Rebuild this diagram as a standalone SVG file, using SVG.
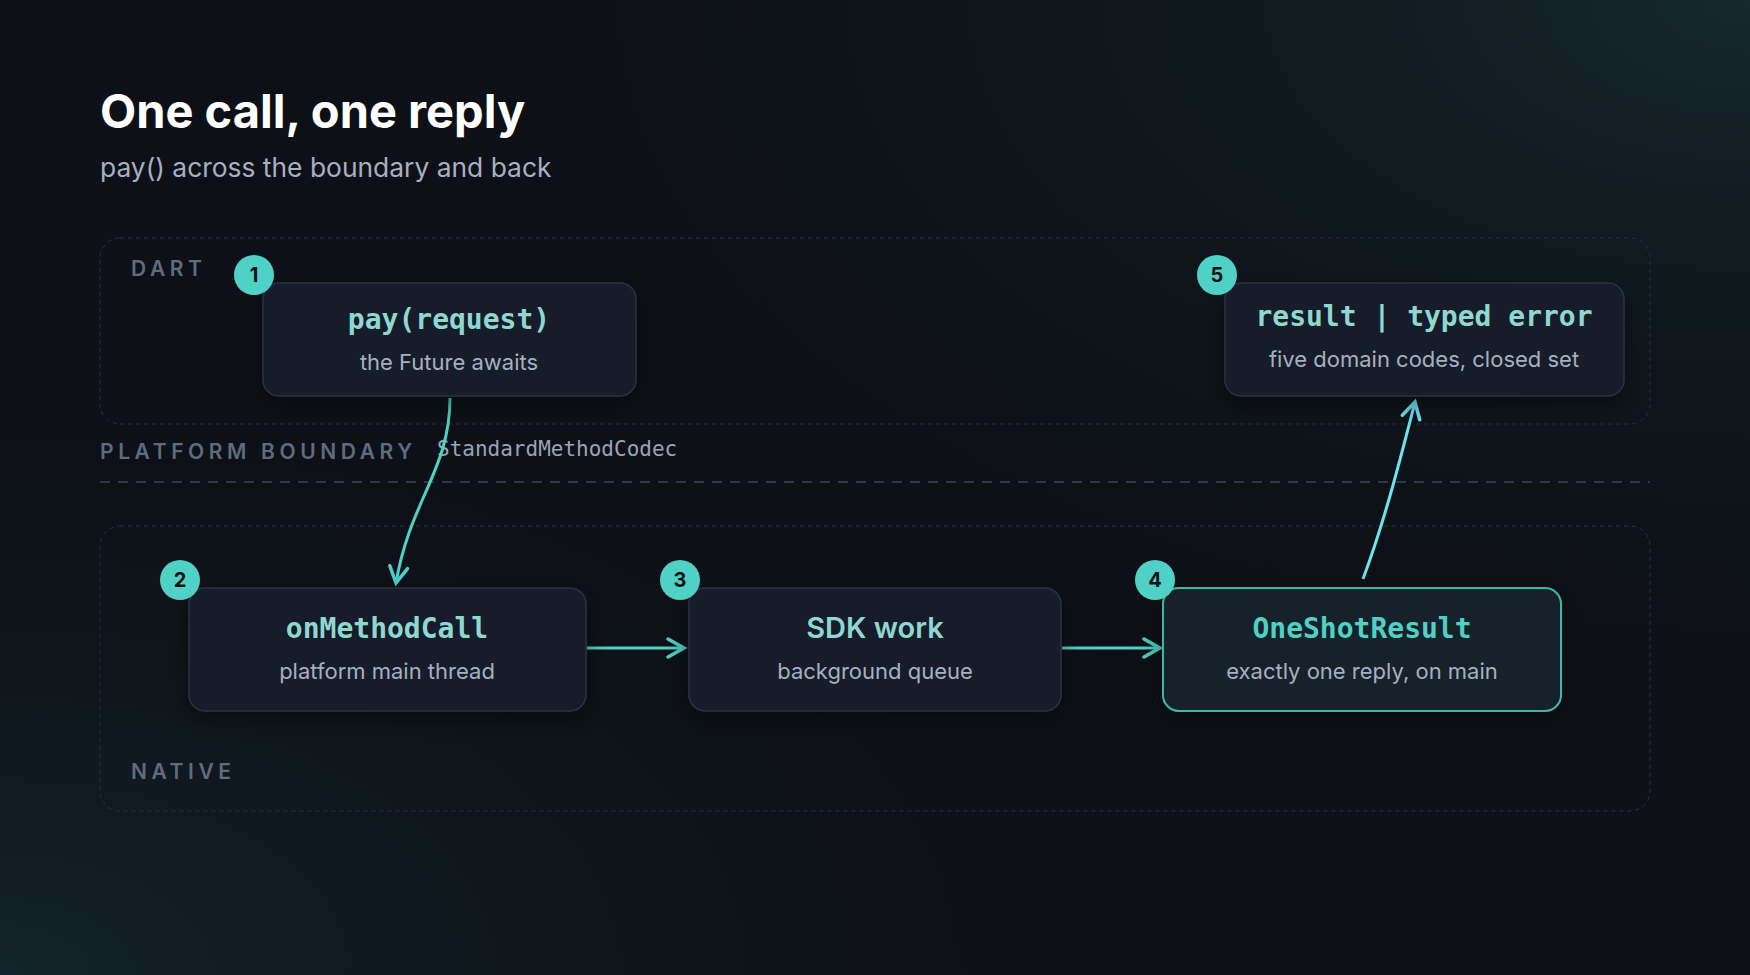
<svg xmlns="http://www.w3.org/2000/svg" width="1750" height="975" viewBox="0 0 1750 975">
<defs>
<radialGradient id="g1" cx="1" cy="0" r="0.7"><stop offset="0" stop-color="#16292c"/><stop offset="1" stop-color="#0d1117" stop-opacity="0"/></radialGradient>
<radialGradient id="g2" cx="0" cy="1" r="0.6"><stop offset="0" stop-color="#13252a"/><stop offset="1" stop-color="#0d1117" stop-opacity="0"/></radialGradient>
<marker id="ah" viewBox="0 0 24 24" refX="20" refY="12" markerWidth="24" markerHeight="24" markerUnits="userSpaceOnUse" orient="auto"><path d="M4 3 L20 12 L4 21" fill="none" stroke="#4fd1c5" stroke-width="3.5" stroke-linecap="round"/></marker>
<marker id="ah2" viewBox="0 0 24 24" refX="20" refY="12" markerWidth="24" markerHeight="24" markerUnits="userSpaceOnUse" orient="auto"><path d="M4 3 L20 12 L4 21" fill="none" stroke="#6ee3f0" stroke-width="3.5" stroke-linecap="round"/></marker>
<filter id="sh" x="-20%" y="-30%" width="140%" height="160%"><feDropShadow dx="0" dy="8" stdDeviation="12" flood-color="#000" flood-opacity="0.45"/></filter>
</defs>
<style>
.region{fill:none;stroke:#2a3140;stroke-width:1;stroke-dasharray:4 4}
.lane{font-family:Inter,"Liberation Sans",sans-serif;font-weight:600;font-size:21px;letter-spacing:4.6px;fill:#5f6b7e}
.node{fill:#181d29;stroke:#2b3242;stroke-width:1.5}
.t{font-family:"DejaVu Sans Mono","Liberation Mono",monospace;font-weight:bold;font-size:28px;fill:#8fd8cf;text-anchor:middle}
.s{font-family:Inter,"Liberation Sans",sans-serif;font-size:22px;fill:#a6b0c0;text-anchor:middle}
.badge{fill:#4fd1c5}
.bt{font-family:Inter,"Liberation Sans",sans-serif;font-weight:bold;font-size:20px;fill:#0d1117;text-anchor:middle}
.c{fill:none;stroke:#4fd1c5;stroke-width:3}
</style>
<rect width="1750" height="975" fill="#0d1117"/>
<rect width="1750" height="975" fill="url(#g1)"/>
<rect width="1750" height="975" fill="url(#g2)"/>
<text x="100" y="128" font-family="Inter,'Liberation Sans',sans-serif" font-weight="bold" font-size="47" fill="#ffffff">One call, one reply</text>
<text x="100" y="177" font-family="Inter,'Liberation Sans',sans-serif" font-size="26.4" fill="#a6b0c0">pay() across the boundary and back</text>
<rect class="region" x="100" y="238" width="1550" height="186" rx="20"/>
<text class="lane" x="131" y="276">DART</text>
<rect class="region" x="100" y="526" width="1550" height="285" rx="20"/>
<text class="lane" x="131" y="779">NATIVE</text>
<text class="lane" x="100" y="459">PLATFORM BOUNDARY</text>
<text x="437" y="456" font-family="'DejaVu Sans Mono','Liberation Mono',monospace" font-size="21" fill="#9aa4b4">StandardMethodCodec</text>
<line x1="100" y1="482" x2="1650" y2="482" stroke="#2f3848" stroke-width="2" stroke-dasharray="10 8"/>
<g id="connectors">
<path class="c" d="M450 398 C450 470 410 500 396 583" marker-end="url(#ah)"/>
<path class="c" d="M587 648 L684 648" marker-end="url(#ah)"/>
<path class="c" d="M1062 648 L1160 648" marker-end="url(#ah)"/>
<path fill="none" stroke="#6ee3f0" stroke-width="3" d="M1363 579 C1385 520 1400 460 1415 402" marker-end="url(#ah2)"/>
</g>
<g id="n1"><rect class="node" x="263" y="283" width="373" height="113" rx="16" filter="url(#sh)"/><text class="t" x="449" y="329">pay(request)</text><text class="s" x="449" y="370">the Future awaits</text><circle class="badge" cx="254" cy="275" r="20"/><text class="bt" x="254" y="282">1</text></g>
<g id="n5"><rect class="node" x="1225" y="283" width="399" height="113" rx="16" filter="url(#sh)"/><text class="t" x="1424" y="326">result | typed error</text><text class="s" x="1424" y="367">five domain codes, closed set</text><circle class="badge" cx="1217" cy="275" r="20"/><text class="bt" x="1217" y="282">5</text></g>
<g id="n2"><rect class="node" x="189" y="588" width="397" height="123" rx="16" filter="url(#sh)"/><text class="t" x="387" y="638">onMethodCall</text><text class="s" x="387" y="679">platform main thread</text><circle class="badge" cx="180" cy="580" r="20"/><text class="bt" x="180" y="587">2</text></g>
<g id="n3"><rect class="node" x="689" y="588" width="372" height="123" rx="16" filter="url(#sh)"/><text x="875" y="638" font-family="Inter,'Liberation Sans',sans-serif" font-weight="600" font-size="29" fill="#8fd8cf" text-anchor="middle">SDK work</text><text class="s" x="875" y="679">background queue</text><circle class="badge" cx="680" cy="580" r="20"/><text class="bt" x="680" y="587">3</text></g>
<g id="n4"><rect x="1163" y="588" width="398" height="123" rx="16" fill="#14202a" stroke="#3fb5a8" stroke-width="2" filter="url(#sh)"/><text class="t" x="1362" y="638" style="fill:#4fd1c5">OneShotResult</text><text class="s" x="1362" y="679">exactly one reply, on main</text><circle class="badge" cx="1155" cy="580" r="20"/><text class="bt" x="1155" y="587">4</text></g>
</svg>
